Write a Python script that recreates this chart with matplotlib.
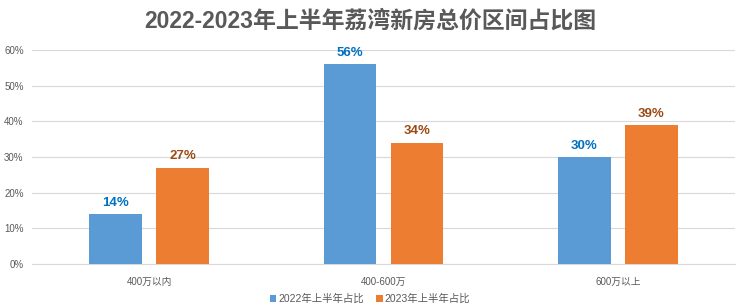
import matplotlib.pyplot as plt
import numpy as np

plt.rcParams['font.family'] = ['Liberation Sans', 'Noto Sans CJK SC', 'DejaVu Sans']

categories = ["400万以内", "400-600万", "600万以上"]
share_2022 = [14, 56, 30]
share_2023 = [27, 34, 39]
series_names = ["2022年上半年占比", "2023年上半年占比"]

blue = "#5B9BD5"
orange = "#ED7D31"

fig = plt.figure(figsize=(7.4, 3.08), dpi=100)
ax = fig.add_axes([32 / 740, 1 - 264 / 308, 703 / 740, 214 / 308])

x = np.arange(len(categories))
w = 0.226
off = (w + 0.06) / 2
b1 = ax.bar(x - off, share_2022, w, color=blue, zorder=3)
b2 = ax.bar(x + off, share_2023, w, color=orange, zorder=3)

for rect, v in zip(b1, share_2022):
    ax.text(rect.get_x() + rect.get_width() / 2, v + 1.5, f"{v}%",
            ha="center", va="bottom", color="#0070C0", fontsize=9.5, fontweight="bold")
for rect, v in zip(b2, share_2023):
    ax.text(rect.get_x() + rect.get_width() / 2, v + 1.5, f"{v}%",
            ha="center", va="bottom", color="#9C4A14", fontsize=9.5, fontweight="bold")

ax.set_xlim(-0.5, 2.5)
ax.set_ylim(0, 60)
ax.set_yticks(range(0, 61, 10))
ax.set_yticklabels([f"{t}%" for t in range(0, 61, 10)], fontsize=7, color="#595959")
ax.set_xticks(x)
ax.set_xticklabels(categories, fontsize=7, color="#595959")
ax.tick_params(axis="both", length=0)
ax.tick_params(axis="x", pad=9)
ax.tick_params(axis="y", pad=6)
ax.grid(axis="y", color="#D9D9D9", linewidth=0.8, zorder=0)
for s in ["top", "right", "left"]:
    ax.spines[s].set_visible(False)
ax.spines["bottom"].set_color("#D9D9D9")

fig.text(0.5, 0.93, "2022-2023年上半年荔湾新房总价区间占比图", ha="center", va="center",
         fontsize=16.5, fontweight="bold", color="#595959")

fig.legend([b1, b2], series_names, loc="center", bbox_to_anchor=(0.5, 0.03), ncol=2,
           frameon=False, fontsize=7.5, handlelength=0.6, handleheight=0.6,
           handletextpad=0.2, columnspacing=1.2, labelcolor="#595959")

fig.savefig("out.png", dpi=100)
